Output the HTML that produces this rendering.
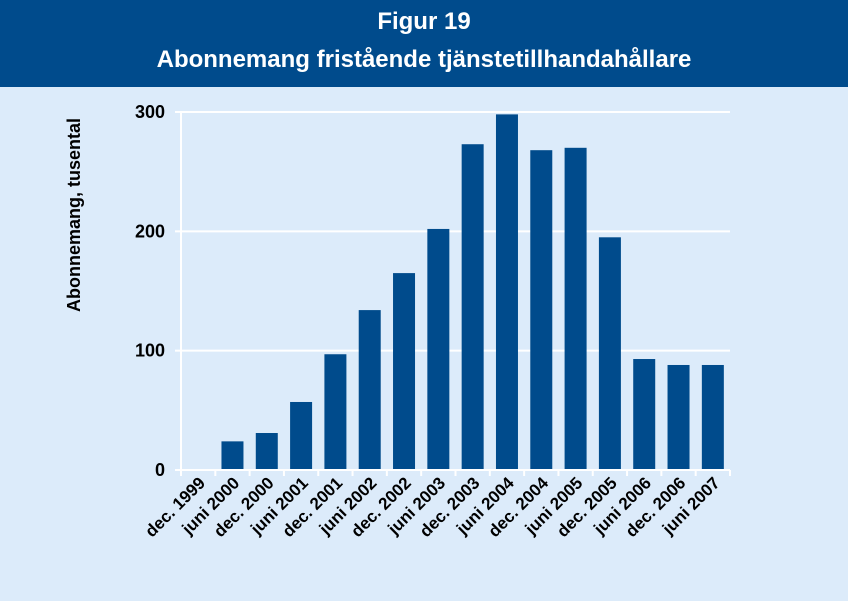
<!DOCTYPE html>
<html><head><meta charset="utf-8"><style>
body{margin:0;width:848px;height:601px;overflow:hidden;background:#dcebfa;font-family:"Liberation Sans",sans-serif}
</style></head><body>
<svg width="848" height="601" style="display:block">
<rect x="0" y="0" width="848" height="601" fill="#dcebfa"/>
<rect x="0" y="0" width="848" height="87" fill="#004b8c"/>
<text x="424" y="29" text-anchor="middle" fill="#fff" font-weight="bold" font-size="24">Figur 19</text>
<text x="424" y="67" text-anchor="middle" fill="#fff" font-weight="bold" font-size="24">Abonnemang fristående tjänstetillhandahållare</text>
<text transform="translate(80,215) rotate(-90)" text-anchor="middle" font-weight="bold" font-size="18" fill="#000">Abonnemang, tusental</text>
<g id="plot"></g>
</svg>
<script>
const categories=["dec. 1999","juni 2000","dec. 2000","juni 2001","dec. 2001","juni 2002","dec. 2002","juni 2003","dec. 2003","juni 2004","dec. 2004","juni 2005","dec. 2005","juni 2006","dec. 2006","juni 2007"];
const values=[0,24,31,57,97,134,165,202,273,298,268,270,195,93,88,88];
const yTicks=[0,100,200,300];
const NS="http://www.w3.org/2000/svg";
const g=document.getElementById('plot');
const x0=181,x1=730,y0=470,yTop=112,yMax=300;
const step=(x1-x0)/categories.length;
const y=v=>y0-(v/yMax)*(y0-yTop);
const xs=i=>x0+i*step;
function mk(t,a){const e=document.createElementNS(NS,t);for(const k in a)e.setAttribute(k,a[k]);g.appendChild(e);return e;}
yTicks.forEach(t=>{
  if(t>0){const l=mk('line',{x1:x0,x2:x1,y1:y(t),y2:y(t),stroke:'#fff','stroke-width':2});
  
  }
  const tk=mk('line',{x1:x0-6,x2:x0,y1:y(t),y2:y(t),stroke:'#fff','stroke-width':2});
  
  
  const tx=mk('text',{x:x0-16,y:y(t)+6,'text-anchor':'end','font-weight':'bold','font-size':18,fill:'#000'});
  tx.textContent=t;
  
  
});
values.forEach((v,i)=>{
  if(v<=0)return;
  const bw=22;
  const r=mk('rect',{x:xs(i)+step/2-bw/2,y:y(v),width:bw,height:y0-y(v),fill:'#004b8c'});
  
  
});
const ya=mk('line',{x1:x0,x2:x0,y1:yTop,y2:y0,stroke:'#fff','stroke-width':2});


const xa=mk('line',{x1:x0-6,x2:x1,y1:y0,y2:y0,stroke:'#fff','stroke-width':2});


for(let i=0;i<=categories.length;i++){
  const t=mk('line',{x1:xs(i),x2:xs(i),y1:y0,y2:y0+6,stroke:'#fff','stroke-width':2});
  
  
}
categories.forEach((c,i)=>{
  const cx=xs(i)+step/2+8, cy=y0+14;
  const t=mk('text',{x:cx,y:cy,'text-anchor':'end','font-weight':'bold','font-size':17,fill:'#000',transform:`rotate(-45 ${cx} ${cy})`});
  t.textContent=c;
  
  
});
</script>
</body></html>
